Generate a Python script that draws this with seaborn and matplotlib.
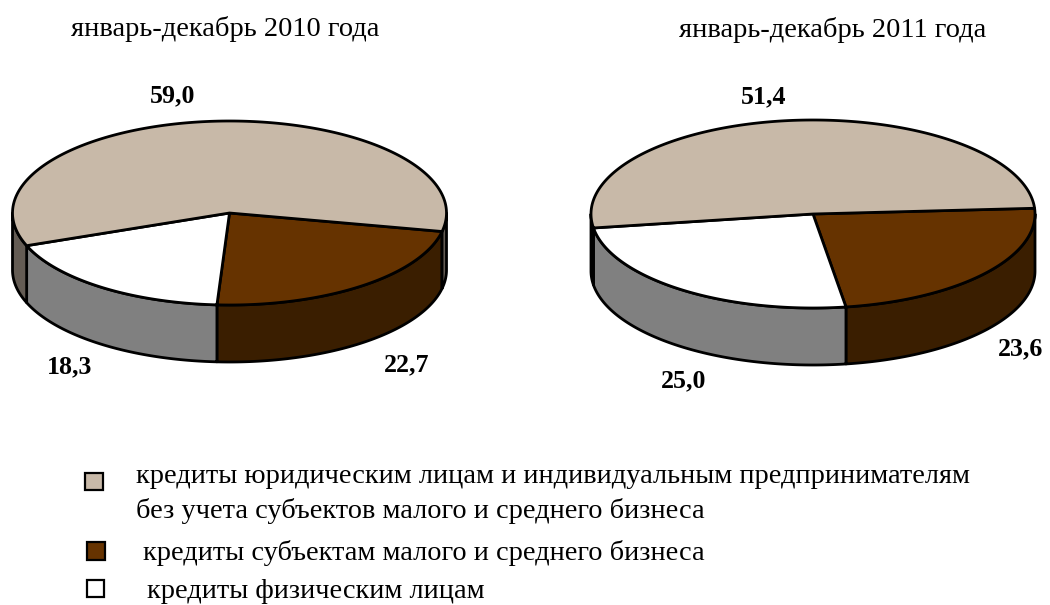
import numpy as np
import seaborn as sns
import matplotlib.pyplot as plt
from matplotlib.patches import Rectangle

# shares, clockwise from the start angle: small business, individuals, legal entities
titles = ["январь-декабрь 2010 года", "январь-декабрь 2011 года"]
values_2010 = [22.7, 18.3, 59.0]
values_2011 = [23.6, 25.0, 51.4]
value_labels_2010 = ["22,7", "18,3", "59,0"]
value_labels_2011 = ["23,6", "25,0", "51,4"]
legend_lines = [
    "кредиты юридическим лицам и индивидуальным предпринимателям",
    "без учета субъектов малого и среднего бизнеса",
    "кредиты субъектам малого и среднего бизнеса",
    "кредиты физическим лицам",
]

sns.set_theme(style="white")
plt.rcParams["font.family"] = ["Liberation Serif", "DejaVu Serif"]
plt.rcParams["text.color"] = "black"

top_colors = sns.color_palette(["#663300", "#ffffff", "#c8b9a8"])
side_colors = sns.color_palette(["#3a1e00", "#808080", "#645c54"])


def arc(cx, cy, a, b, t0, t1):
    t = np.radians(np.linspace(t0, t1, 200))
    return cx + a * np.cos(t), cy - b * np.sin(t)


def draw_pie(ax, values, cx, cy, a, b, depth, start):
    # side walls first, only the front half of the ellipse can be seen
    angle = start
    spans = []
    for v in values:
        spans.append((angle - 360 * v / 100, angle))
        angle = spans[-1][0]

    for (t1, t0), side in zip(spans, side_colors):
        for lo, hi in [(-180, 0), (-540, -360)]:
            s0, s1 = max(t1, lo), min(t0, hi)
            if s0 >= s1:
                continue
            x, y = arc(cx, cy, a, b, s0, s1)
            ax.fill(np.r_[x, x[::-1]], np.r_[y, y[::-1] + depth],
                    fc=side, ec="black", lw=2, joinstyle="round")

    for (t1, t0), top in zip(spans, top_colors):
        x, y = arc(cx, cy, a, b, t1, t0)
        ax.fill(np.r_[cx, x], np.r_[cy, y], fc=top, ec="black", lw=2, joinstyle="round")


fig = plt.figure(figsize=(10.5, 6.05), dpi=100)
ax = fig.add_axes([0, 0, 1, 1])
ax.set_xlim(0, 1050)
ax.set_ylim(605, 0)
ax.axis("off")

draw_pie(ax, values_2010, 229.5, 213, 217, 92, 57, -11.6)
draw_pie(ax, values_2011, 813, 214, 222, 94, 57, 3.5)

ax.text(225, 36, titles[0], fontsize=20.5, ha="center", va="baseline")
ax.text(832.5, 37, titles[1], fontsize=20.5, ha="center", va="baseline")

label_pos_2010 = [(406.5, 371), (70, 373), (173, 102)]
label_pos_2011 = [(1021, 355), (684, 387), (764, 103)]
for labels, positions in [(value_labels_2010, label_pos_2010), (value_labels_2011, label_pos_2011)]:
    for txt, (x, y) in zip(labels, positions):
        ax.text(x, y, txt, fontsize=18.6, fontweight="bold", ha="center", va="baseline")

ax.text(136, 483, legend_lines[0], fontsize=20.4, va="baseline")
ax.text(136, 518, legend_lines[1], fontsize=20.4, va="baseline")
ax.text(143, 560, legend_lines[2], fontsize=20.4, va="baseline")
ax.text(147, 598, legend_lines[3], fontsize=20.4, va="baseline")

ax.add_patch(Rectangle((85, 473), 18, 17, fc=top_colors[2], ec="black", lw=1.6))
ax.add_patch(Rectangle((87, 542), 18, 18, fc=top_colors[0], ec="black", lw=1.6))
ax.add_patch(Rectangle((87, 580), 17, 17, fc=top_colors[1], ec="black", lw=1.6))

fig.savefig("out.png", dpi=100)
